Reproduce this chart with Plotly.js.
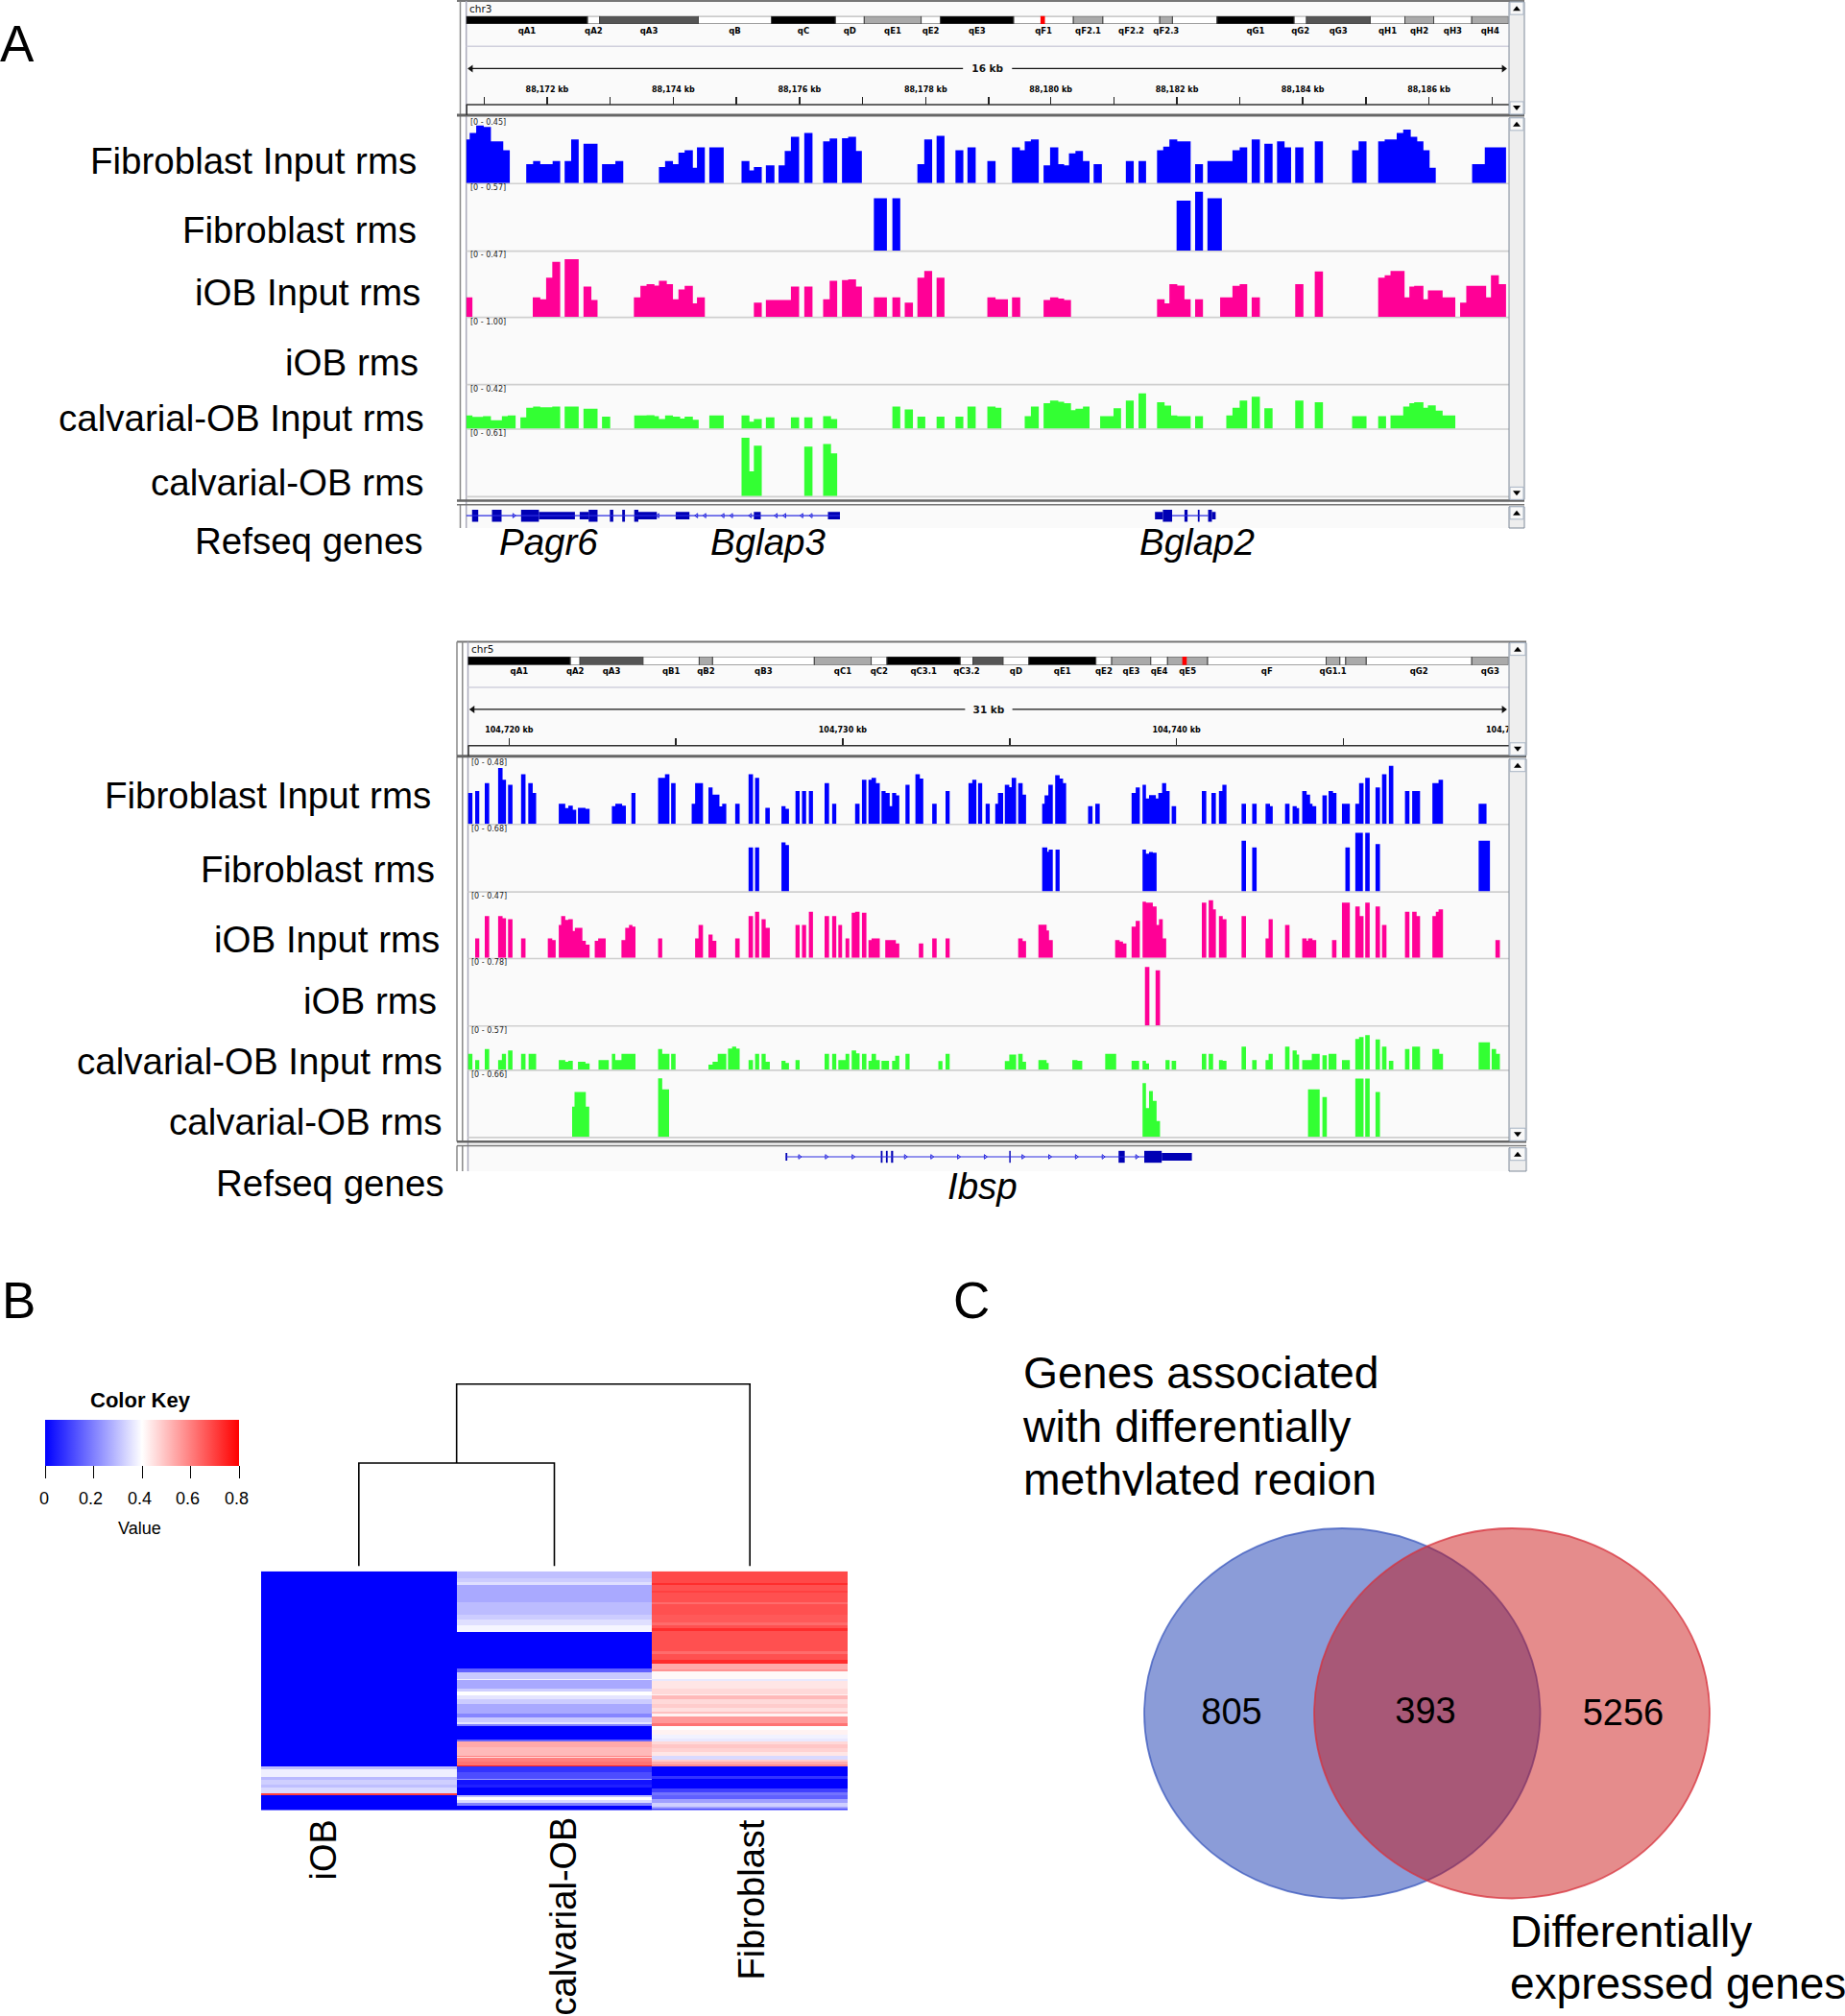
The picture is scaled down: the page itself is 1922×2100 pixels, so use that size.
<!DOCTYPE html>
<html><head><meta charset="utf-8">
<script src="https://cdn.plot.ly/plotly-3.0.1.min.js"></script>
<style>html,body{margin:0;padding:0;background:#fff;overflow:hidden}#g{width:1922px;height:2100px}</style>
</head><body><div id="g"></div>
<script>
// ---------- DATA: coverage segments [start, end, height], positions along each track, left and right half of the window
const fibInputA_L=[[16,26,127],[26,45,146],[45,67,168],[67,88,164],[88,124,122],[124,143,96],[191,211,55],[211,232,64],[232,268,55],[268,290,64],[303,322,64],[322,344,127],[358,399,115],[412,451,55],[451,474,64],[578,596,47],[596,619,64],[619,635,55],[635,653,89],[653,677,96],[677,689,45],[689,712,104],[725,767,104],[819,842,64],[842,855,37],[855,878,47],[890,915,52],[927,945,52],[945,963,94],[963,987,135],[1002,1026,146],[1057,1076,122],[1076,1098,130],[1112,1130,131],[1130,1153,135],[1153,1170,94],[1332,1352,55],[1352,1375,127],[1388,1411,138],[1443,1466,96],[1478,1502,104],[1536,1560,64]];
const fibInputA_R=[[40,63,104],[63,77,96],[77,95,122],[95,118,127],[132,151,52],[151,175,104],[175,192,55],[192,206,52],[206,225,87],[225,247,94],[247,266,64],[278,302,55],[372,395,64],[409,431,64],[463,481,96],[481,499,106],[499,522,127],[522,561,122],[574,597,55],[610,683,64],[683,704,96],[704,726,104],[739,763,127],[776,800,115],[813,835,122],[835,854,104],[866,890,104],[923,947,122],[1032,1051,96],[1051,1074,122],[1108,1127,122],[1127,1162,127],[1162,1181,146],[1181,1203,156],[1203,1222,135],[1222,1240,122],[1240,1258,96],[1258,1276,45],[1382,1419,55],[1419,1481,104]];
const fibA_L=[[1205,1243,153],[1259,1282,153]];
const fibA_R=[[520,561,146],[574,597,172],[610,652,153]];
const iobInputA_L=[[16,34,57],[210,232,57],[232,249,51],[249,267,114],[267,290,160],[303,344,168],[358,381,88],[381,399,49],[505,524,57],[524,542,90],[542,565,95],[565,578,91],[578,601,105],[601,619,95],[619,635,51],[635,653,80],[653,677,90],[677,689,39],[689,712,57],[855,878,41],[890,963,49],[963,987,88],[1002,1026,88],[1057,1076,51],[1076,1098,105],[1112,1130,107],[1130,1153,109],[1153,1170,88],[1205,1243,57],[1259,1282,57],[1295,1319,41],[1332,1352,114],[1352,1375,134],[1388,1411,114],[1536,1560,57],[1560,1568,51]];
const iobInputA_R=[[0,28,51],[40,64,57],[132,151,49],[151,175,57],[175,192,53],[192,212,49],[463,485,51],[485,499,39],[499,522,95],[522,543,91],[543,561,51],[574,597,51],[647,683,57],[683,704,90],[704,726,95],[739,763,57],[866,890,95],[923,947,132],[1108,1127,114],[1127,1144,121],[1144,1185,134],[1185,1199,57],[1199,1213,88],[1213,1240,90],[1240,1253,51],[1253,1296,77],[1296,1333,57],[1347,1365,41],[1365,1423,90],[1423,1437,57],[1437,1460,121],[1460,1481,95]];
const iobA_L=[]; const iobA_R=[];
const calInputA_L=[[16,34,38],[34,65,34],[65,88,36],[88,120,24],[120,137,36],[137,160,38],[174,191,33],[191,211,61],[211,232,64],[232,267,62],[267,290,64],[303,344,64],[358,399,58],[412,436,35],[506,542,38],[542,565,39],[565,578,36],[578,596,28],[596,619,38],[619,640,35],[640,653,29],[653,677,35],[677,694,26],[725,767,38],[819,842,38],[842,855,20],[855,878,28],[890,915,33],[963,987,33],[1002,1026,33],[1057,1080,36],[1080,1098,28],[1259,1282,64],[1295,1319,56],[1332,1355,35],[1388,1411,35],[1443,1466,35],[1478,1502,64],[1536,1560,64],[1560,1568,61]];
const calInputA_R=[[0,9,61],[77,95,36],[95,118,64],[132,151,74],[151,175,82],[175,192,78],[192,212,74],[212,225,54],[225,247,58],[247,266,64],[297,336,36],[336,358,59],[372,395,82],[409,431,103],[463,485,77],[485,504,67],[504,522,38],[522,561,36],[574,597,36],[665,683,38],[683,704,61],[704,726,82],[739,763,93],[776,800,59],[866,890,82],[923,947,77],[1032,1074,36],[1108,1131,36],[1144,1181,38],[1181,1199,64],[1199,1213,74],[1213,1240,77],[1240,1253,61],[1253,1276,68],[1276,1296,52],[1296,1333,38]];
const calA_L=[[819,842,170],[842,855,72],[855,878,147],[1002,1026,144],[1057,1080,152],[1080,1098,125]];
const calA_R=[];

const fibInputB_L=[[21,34,90],[42,54,96],[70,83,119],[109,122,163],[122,132,129],[138,151,114],[176,189,145],[197,210,119],[210,220,90],[286,305,59],[305,314,46],[314,327,53],[327,337,41],[342,364,47],[364,376,44],[441,451,52],[451,471,59],[471,482,53],[498,510,90],[576,596,134],[596,609,145],[614,627,119],[674,684,59],[684,707,119],[723,735,106],[735,755,85],[755,763,51],[763,775,59],[801,814,59],[840,853,145],[859,871,134],[889,902,47],[936,948,52],[948,958,44],[977,989,96],[996,1008,96],[1016,1028,96],[1062,1075,119],[1084,1096,59],[1151,1164,59],[1171,1184,129],[1190,1199,129],[1199,1212,134],[1212,1223,119],[1228,1240,96],[1240,1252,90],[1252,1259,52],[1259,1271,90],[1271,1280,83],[1298,1310,114],[1327,1340,145],[1340,1350,132],[1376,1389,59],[1415,1427,96],[1482,1493,119],[1493,1505,129],[1510,1522,119],[1532,1544,59],[1560,1568,59]];
const fibInputB_R=[[0,15,90],[20,33,114],[33,40,107],[40,53,134],[59,72,119],[72,82,85],[129,136,59],[136,147,83],[147,160,114],[167,180,142],[180,190,132],[190,199,119],[263,276,52],[284,297,59],[390,402,90],[402,414,106],[422,432,114],[432,441,74],[441,461,84],[461,468,74],[468,479,90],[479,491,119],[491,501,96],[507,520,52],[595,608,96],[623,636,90],[645,655,96],[655,667,114],[711,724,59],[742,755,59],[781,794,59],[794,802,52],[838,851,59],[860,872,52],[872,879,46],[888,901,96],[901,911,85],[911,918,59],[918,929,52],[947,960,83],[965,978,96],[978,988,90],[1004,1027,59],[1043,1054,59],[1054,1067,119],[1072,1085,134],[1102,1115,106],[1121,1134,145],[1141,1154,169],[1188,1201,96],[1209,1232,96],[1268,1286,119],[1286,1299,129],[1403,1426,59]];
const fibB_L=[[840,853,128],[859,871,128],[936,948,143],[948,958,135]];
const fibB_R=[[129,144,128],[144,148,116],[148,160,122],[168,180,122],[422,432,122],[432,441,110],[441,452,115],[452,463,113],[711,724,148],[742,755,128],[1014,1027,128],[1043,1065,171],[1072,1085,171],[1102,1115,138],[1403,1436,148]];
const iobInputB_L=[[42,54,57],[70,83,122],[109,122,122],[122,132,116],[138,151,113],[176,189,57],[254,267,57],[267,277,52],[286,293,96],[293,305,122],[305,314,111],[314,327,113],[327,333,79],[333,355,88],[355,365,50],[365,376,39],[391,401,50],[401,423,57],[469,480,52],[480,491,88],[491,501,96],[501,510,91],[576,588,57],[684,694,57],[694,707,96],[723,735,68],[735,746,50],[801,814,57],[840,853,122],[859,871,135],[878,890,113],[890,902,88],[977,989,96],[996,1008,96],[1016,1028,135],[1062,1075,122],[1084,1096,122],[1102,1113,96],[1123,1134,57],[1141,1151,132],[1151,1164,135],[1171,1184,132],[1190,1199,52],[1199,1223,57],[1239,1270,52],[1270,1280,42],[1337,1350,42],[1376,1389,57],[1415,1427,57]];
const iobInputB_R=[[59,72,57],[72,82,49],[118,142,97],[142,149,80],[149,160,52],[342,355,52],[355,365,48],[365,375,42],[390,402,91],[402,414,108],[422,432,164],[432,452,161],[452,463,150],[463,470,96],[470,481,113],[481,491,57],[595,608,161],[615,628,168],[628,636,142],[645,656,122],[656,667,113],[711,724,122],[781,790,57],[790,802,113],[838,851,96],[888,901,57],[901,905,50],[905,918,57],[918,929,52],[975,988,52],[1004,1027,161],[1043,1056,150],[1056,1067,122],[1072,1085,161],[1102,1115,150],[1121,1134,96],[1188,1201,135],[1209,1222,135],[1222,1232,122],[1268,1278,122],[1278,1286,135],[1286,1299,142],[1452,1465,52]];
const iobB_L=[];
const iobB_R=[[429,442,171],[460,473,161]];
const calInputB_L=[[21,34,46],[42,54,28],[70,83,60],[109,120,28],[120,132,46],[138,151,56],[176,189,46],[198,220,46],[286,305,28],[305,314,23],[314,327,26],[342,364,23],[364,376,18],[402,432,28],[441,451,46],[451,469,28],[469,510,46],[576,588,60],[588,609,46],[614,627,46],[723,735,15],[735,750,23],[750,775,46],[780,792,62],[792,804,67],[804,814,62],[840,853,28],[859,871,46],[878,890,46],[890,902,23],[936,948,26],[948,958,20],[977,989,28],[1062,1075,46],[1084,1096,46],[1102,1123,28],[1123,1134,46],[1141,1154,56],[1154,1164,48],[1171,1184,46],[1190,1199,26],[1199,1212,46],[1212,1223,28],[1228,1250,26],[1259,1268,26],[1268,1280,41],[1298,1310,46],[1394,1406,25],[1415,1427,46]];
const calInputB_R=[[20,33,25],[33,53,44],[59,72,46],[72,82,23],[118,142,28],[142,148,20],[217,232,28],[232,246,26],[313,345,46],[390,412,26],[422,432,26],[432,441,18],[489,501,28],[507,520,26],[595,608,46],[615,628,46],[645,656,28],[656,667,26],[711,724,67],[742,755,28],[781,790,28],[790,802,46],[838,851,67],[860,872,56],[872,879,44],[888,916,28],[916,939,46],[947,960,42],[965,988,46],[1004,1027,28],[1043,1054,90],[1054,1067,95],[1072,1085,101],[1102,1115,88],[1121,1134,67],[1141,1154,26],[1188,1201,60],[1209,1232,67],[1268,1288,60],[1288,1299,46],[1403,1436,80],[1441,1454,60],[1454,1465,46]];
const calB_L=[[325,332,88],[332,365,131],[365,375,88],[576,588,171],[588,608,139]];
const calB_R=[[422,432,157],[432,441,84],[441,452,134],[452,463,105],[463,473,46],[905,939,139],[947,960,116],[1043,1067,170],[1072,1085,170],[1102,1115,131]];

const trackNames=["Fibroblast Input rms","Fibroblast rms","iOB Input rms","iOB rms","calvarial-OB Input rms","calvarial-OB rms"];
const scalesA=["[0 - 0.45]","[0 - 0.57]","[0 - 0.47]","[0 - 1.00]","[0 - 0.42]","[0 - 0.61]"];
const scalesB=["[0 - 0.48]","[0 - 0.68]","[0 - 0.47]","[0 - 0.78]","[0 - 0.57]","[0 - 0.66]"];
const trackColors=["#0000ff","#0000ff","#ff0096","#ff0096","#33ff33","#33ff33"];

// cytobands: [name, start, end, stain]
const bandsChr3=[["qA1",16,370,"k"],["qA2",370,405,"w"],["qA3",405,693,"d"],["qB",693,906,"w"],["qC",906,1093,"k"],["qD",1093,1177,"w"],["qE1",1177,1343,"g"],["qE2",1343,1399,"w"],["qE3",1399,1613,"k"],["qF1",1613,1787,"w"],["qF2.1",1787,1873,"g"],["qF2.2",1873,2039,"w"],["qF2.3",2039,2076,"g"],["",2076,2206,"w"],["qG1",2206,2431,"k"],["qG2",2431,2467,"w"],["qG3",2467,2653,"d"],["qH1",2653,2754,"w"],["qH2",2754,2838,"g"],["qH3",2838,2949,"w"],["qH4",2949,3056,"g"]];
const bandsChr5=[["qA1",21,320,"k"],["qA2",320,348,"w"],["qA3",348,532,"d"],["qB1",532,696,"w"],["qB2",696,735,"g"],["qB3",735,1032,"w"],["qC1",1032,1198,"g"],["qC2",1198,1244,"w"],["qC3.1",1244,1458,"k"],["qC3.2",1458,1495,"w"],["",1495,1583,"d"],["qD",1583,1658,"w"],["qE1",1658,1854,"k"],["qE2",1854,1900,"w"],["qE3",1900,2014,"g"],["qE4",2014,2063,"w"],["qE5",2063,2180,"g"],["qF",2180,2526,"w"],["qG1.1",2526,2566,"g"],["",2566,2583,"w"],["",2583,2643,"g"],["qG2",2643,2951,"w"],["qG3",2951,3058,"g"]];
const locusChr3=[1691,1704];
const locusChr5=[2106,2119];

// ruler: kb coordinate and its position along the window
const rulerKbA=[88171,88172,88173,88174,88175,88176,88177,88178,88179,88180,88181,88182,88183,88184,88185,88186,88187];
const rulerPosA=[69,252,436,620,804,988,1172,1356,1540,1721,1905,2089,2272,2456,2640,2824,3008];
const rulerKbB=[104720,104725,104730,104735,104740,104745,104750];
const rulerPosB=[141,628,1115,1602,2089,2576,3063];

// RefSeq exons: [start, end, tall(1)/thin(0)]
const exonsA=[[33,51,1],[91,119,1],[176,228,1],[228,333,0],[347,373,0],[373,399,1],[435,445,1],[471,479,1],[506,518,1],[518,572,0],[627,667,0],[855,875,0],[1071,1106,0],[2025,2048,0],[2048,2075,1],[2111,2120,1],[2150,2155,1],[2180,2191,1],[2191,2202,0]];
const intronsA=[[16,1106],[2075,2180]];
const chevronsLeftA=[575,688,712,765,790,845,920,945,995,1022];
const chevronsRightA=[155];
const exonsB=[[948,953,0],[1226,1231,1],[1241,1246,1],[1256,1262,1],[1601,1605,1],[1920,1938,1],[1995,2046,1],[2046,2134,0]];
const intronsB=[[948,1995]];
const chevronsRightB=[989,1067,1145,1298,1375,1453,1531,1641,1719,1797,1875,1973];

// heatmap: runs [end row, value] for each column
const hmColumns=["iOB","calvarial-OB","Fibroblast"];
const hmIOB=[[203,0],[206,.30],[214,.375],[217,.29],[222,.325],[225,.30],[231,.34],[233,.70],[249,0]];
const hmCal=[[7,.30],[11,.32],[14,.35],[32,.265],[45,.295],[50,.32],[56,.35],[63,.385],[101,0],[105,.15],[112,.315],[113,.375],[122,.265],[125,.325],[129,.40],[133,.36],[138,.32],[148,.265],[152,.21],[157,.315],[159,.36],[161,.2],[175,0],[177,.15],[183,.535],[192,.51],[193,.6],[194,.45],[198,.6],[202,.62],[203,.75],[209,.08],[216,.12],[217,.25],[222,.03],[225,.05],[233,0],[235,.3],[238,.4],[241,.34],[244,.2],[249,0]];
const hmFib=[[12,.685],[14,.73],[20,.675],[22,.70],[32,.675],[34,.63],[45,.675],[53,.66],[56,.63],[59,.675],[62,.73],[83,.675],[86,.63],[92,.675],[96,.73],[102,.53],[104,.57],[112,.41],[114,.365],[122,.44],[128,.46],[129,.42],[133,.51],[138,.46],[142,.48],[146,.45],[148,.50],[151,.42],[158,.56],[161,.62],[165,.40],[170,.42],[174,.38],[177,.365],[180,.46],[184,.49],[188,.47],[192,.44],[196,.34],[198,.48],[201,.53],[203,.58],[213,0],[216,.08],[226,0],[230,.10],[233,.18],[237,.15],[241,.25],[245,.325],[247,.25],[249,.10]];
const keyTicks=[0,0.2,0.4,0.6,0.8];
const keyLabelX=[45.7,94.5,145.6,195,246];
const dendroInner=107.6, dendroOuter=190;

const vennCounts=["805","393","5256"];
const vennCountX=[1283,1485,1691];
const vennCountY=[1786,1785,1787];
const vennTitle=["Genes associated","with differentially","methylated region"];
const vennTitleY=[1434,1490,1545];

// ---------- HELPERS
const W=1922,H=2100,FX=p=>p/W,FY=p=>1-p/H;
const SANS='"Liberation Sans",Arial,sans-serif', DJ='"DejaVu Sans",sans-serif';
const traces=[],layout={width:W,height:H,margin:{l:0,r:0,t:0,b:0},paper_bgcolor:'#fff',plot_bgcolor:'rgba(0,0,0,0)',showlegend:false,barmode:'overlay',hovermode:false,shapes:[],annotations:[],font:{family:SANS}};
let axN=0;
function axes(x0,x1,y0,y1,xo,yo){axN++;const s=axN===1?'':axN;
  layout['xaxis'+s]=Object.assign({domain:[FX(x0),FX(x1)],anchor:'y'+s,visible:false,fixedrange:true,zeroline:false,showgrid:false},xo);
  layout['yaxis'+s]=Object.assign({domain:[FY(y1),FY(y0)],anchor:'x'+s,visible:false,fixedrange:true,zeroline:false,showgrid:false},yo);
  return {xaxis:'x'+s,yaxis:'y'+s};}
function rect(x0,y0,x1,y1,fill,line,lw,layer){layout.shapes.push({type:'rect',xref:'paper',yref:'paper',x0:FX(x0),x1:FX(x1),y0:FY(y0),y1:FY(y1),fillcolor:fill||'rgba(0,0,0,0)',line:{color:line||'rgba(0,0,0,0)',width:lw===undefined?0:lw},layer:layer||'below'});}
function hline(x0,x1,y,c,w,layer){layout.shapes.push({type:'line',xref:'paper',yref:'paper',x0:FX(x0),x1:FX(x1),y0:FY(y),y1:FY(y),line:{color:c,width:w},layer:layer||'below'});}
function vline(x,y0,y1,c,w,layer){layout.shapes.push({type:'line',xref:'paper',yref:'paper',x0:FX(x),x1:FX(x),y0:FY(y0),y1:FY(y1),line:{color:c,width:w},layer:layer||'below'});}
function tri(cx,cy,dir){const a=4,b=2.5,d=dir*b;layout.shapes.push({type:'path',xref:'paper',yref:'paper',path:`M ${FX(cx-a)} ${FY(cy-d)} L ${FX(cx+a)} ${FY(cy-d)} L ${FX(cx)} ${FY(cy+d)} Z`,fillcolor:'#000',line:{width:0},layer:'above'});}
function note(text,x,y,size,o){layout.annotations.push(Object.assign({text,xref:'paper',yref:'paper',x:FX(x),y:FY(y),showarrow:false,xanchor:'left',yanchor:'middle',font:{size,family:SANS,color:'#000'},borderpad:0,borderwidth:0,align:'left'},o||{}));}
function scroll(x0,x1,y0,y1,bottom){rect(x0,y0,x1,y1,'#eeeeee','#7f8a99',1,'above');
  rect(x0+1,y0,x1-1,y0+13,'#f8f8f8','#a8b4c4',1,'above');tri((x0+x1)/2,y0+6.5,-1);
  if(bottom){rect(x0+1,y1-13,x1-1,y1,'#f8f8f8','#a8b4c4',1,'above');tri((x0+x1)/2,y1-6.5,1);}}
const seg=(L,R)=>L.concat(R.map(s=>[s[0]+1568,s[1]+1568,s[2]]));
function coverage(segs,color,xa){const x=[],y=[];segs.forEach(s=>{x.push(s[0],s[0],s[1],s[1]);y.push(0,s[2],s[2],0);});
  if(!x.length){x.push(xa[0]);y.push(0);}
  return {type:'scatter',mode:'lines',x,y,fill:'tozeroy',fillcolor:color,line:{width:0,color},hoverinfo:'skip'};}

function panel(P){
  const z=v=>P.off+v/2.8;
  // chrome
  rect(P.left,z(P.top),1572,P.bot,'#fafafa');
  hline(P.frameL,P.sbR,z(P.top),'#777',2);
  hline(P.frameL,P.sbR,z(P.headBot),'#666',3,'above');
  hline(P.frameL,P.sbR,z(P.trackBot),'#666',2.5,'above');
  hline(P.frameL,P.sbR,z(P.trackBot+12),'#777',1.5,'above');
  P.vlines.forEach(v=>{vline(v,z(P.top),z(P.headBot),'#888',1.5);vline(v,z(P.headBot),z(P.trackBot),'#888',1.5);vline(v,z(P.trackBot+12),P.bot,'#888',1.5);});
  vline(P.left,z(P.top),P.bot,'#aab',1.5);
  hline(P.left,1572,z(P.divider),'#d0d0dc',1.5);
  hline(P.left,1572,z(P.rulerBase),'#333',1.5,'above');
  vline(P.left+.5,z(P.rulerBase),z(P.headBot),'#333',1.5,'above');
  scroll(1572,P.sbR,z(P.top+3),z(P.headBot-3),true);
  scroll(1572,P.sbR,z(P.headBot+8),z(P.trackBot-3),true);
  scroll(1572,P.sbR,z(P.trackBot+18),P.bot,false);
  note(P.chr,P.left+3,z(P.chrZ),10.5,{font:{size:10.5,family:DJ,color:'#111'}});
  // ideogram
  const a=axes(P.left,1571.4,z(P.ideo[0]),z(P.ideo[1]),{visible:true,range:P.range,showline:false,ticks:'',tickmode:'array',
    tickvals:P.bands.filter(b=>b[0]).map(b=>(b[1]+b[2])/2),ticktext:P.bands.filter(b=>b[0]).map(b=>b[0]),tickangle:0,tickfont:{size:8.5,family:DJ,color:'#000',weight:700}},{range:[-.5,.5]});
  const stain={k:'#000',d:'#555',g:'#aaa',w:'#fff'};
  traces.push(Object.assign({type:'bar',orientation:'h',y:P.bands.map(_=>0),base:P.bands.map(b=>b[1]),x:P.bands.map(b=>b[2]-b[1]),width:P.bands.map(_=>1),marker:{color:P.bands.map(b=>stain[b[3]]),line:{color:'#444',width:1}},hoverinfo:'skip'},a));
  traces.push(Object.assign({type:'bar',orientation:'h',y:[0],base:[P.locus[0]],x:[P.locus[1]-P.locus[0]],width:[1.75],marker:{color:'#ff0000',line:{width:0}},cliponaxis:false,hoverinfo:'skip'},a));
  // ruler
  const rh=P.rulerBase-P.divider;
  const r=axes(P.left,1571.4,z(P.divider),z(P.rulerBase),{visible:true,range:P.range,showline:false,showticklabels:false,ticks:'inside',ticklen:8,tickwidth:1.5,tickcolor:'#222',tickmode:'array',tickvals:P.rulerPos},{range:[0,rh]});
  const yArrow=P.rulerBase-P.arrowZ,yLab=P.rulerBase-P.labelZ-5;
  traces.push(Object.assign({type:'scatter',mode:'lines',x:[P.range[0]+6,P.spanGap[0]],y:[yArrow,yArrow],line:{color:'#111',width:1.3},hoverinfo:'skip'},r));
  traces.push(Object.assign({type:'scatter',mode:'lines',x:[P.spanGap[1],P.range[1]-8],y:[yArrow,yArrow],line:{color:'#111',width:1.3},hoverinfo:'skip'},r));
  traces.push(Object.assign({type:'scatter',mode:'markers',x:[P.range[0]+14,P.range[1]-14],y:[yArrow,yArrow],marker:{symbol:['triangle-left','triangle-right'],size:7,color:'#111'},hoverinfo:'skip'},r));
  traces.push(Object.assign({type:'scatter',mode:'text',x:[(P.spanGap[0]+P.spanGap[1])/2],y:[yArrow-4],text:[P.span],textfont:{size:10.5,family:DJ,color:'#111',weight:700},hoverinfo:'skip'},r));
  traces.push(Object.assign({type:'scatter',mode:'text',cliponaxis:true,x:P.rulerLab.map(i=>P.rulerPos[i]),y:P.rulerLab.map(_=>yLab),text:P.rulerLab.map(i=>P.fmt(P.rulerKb[i])),textfont:{size:8,family:DJ,color:'#000',weight:700},hoverinfo:'skip'},r));
  // tracks
  P.tracks.forEach((t,i)=>{
    const b=axes(P.left,1571.4,z(t[0]),z(t[1]),{range:P.range},{range:[0,t[1]-t[0]]});
    traces.push(Object.assign(coverage(P.data[i],trackColors[i],P.range),b));
    hline(P.left,1572,z(t[1])+.6,'#cfcfcf',1.6);
    note(P.scales[i],P.left+4,z(t[0])+4.2,8,{font:{size:8,family:DJ,color:'#222'}});
  });
  // genes
  const g=axes(P.left,1571.4,z(P.geneZ-19),z(P.geneZ+19),{range:P.range},{range:[-19,19]});
  P.introns.forEach(s=>traces.push(Object.assign({type:'scatter',mode:'lines',x:s,y:[0,0],line:{color:'#2a2ae0',width:1.2},hoverinfo:'skip'},g)));
  if(P.chevL.length)traces.push(Object.assign({type:'scatter',mode:'markers',x:P.chevL,y:P.chevL.map(_=>0),marker:{symbol:'triangle-left-open',size:4,color:'#2a2ae0',line:{width:1,color:'#2a2ae0'}},hoverinfo:'skip'},g));
  if(P.chevR.length)traces.push(Object.assign({type:'scatter',mode:'markers',x:P.chevR,y:P.chevR.map(_=>0),marker:{symbol:'triangle-right-open',size:4,color:'#2a2ae0',line:{width:1,color:'#2a2ae0'}},hoverinfo:'skip'},g));
  traces.push(Object.assign({type:'bar',orientation:'h',y:P.exons.map(_=>0),base:P.exons.map(e=>e[0]),x:P.exons.map(e=>e[1]-e[0]),width:P.exons.map(e=>e[2]?35:22),marker:{color:'#0000b4',line:{width:0}},hoverinfo:'skip'},g));
  // side labels
  P.labels.forEach(l=>note(l[0],l[1],l[2],38.5,{xanchor:'right'}));
}

const fmtKb=v=>String(v).replace(/(\d{3})$/,',$1')+' kb';
panel({off:0,top:3,headBot:336,trackBot:1460,divider:135,rulerBase:305,arrowZ:200,labelZ:258,left:485.7,frameL:476,sbR:1588,bot:550,chr:'chr3',chrZ:24,
  vlines:[479.5],range:[16,3056],ideo:[47,70],bands:bandsChr3,locus:locusChr3,rulerKb:rulerKbA,rulerPos:rulerPosA,rulerLab:[1,3,5,7,9,11,13,15],fmt:fmtKb,span:'16 kb',spanGap:[1465,1608],
  tracks:[[345,534],[536,731],[733,924],[927,1120],[1124,1250],[1253,1447]],
  data:[seg(fibInputA_L,fibInputA_R),seg(fibA_L,fibA_R),seg(iobInputA_L,iobInputA_R),seg(iobA_L,iobA_R),seg(calInputA_L,calInputA_R),seg(calA_L,calA_R)],
  scales:scalesA,geneZ:1504,introns:intronsA,exons:exonsA,chevL:chevronsLeftA,chevR:chevronsRightA,
  labels:[[trackNames[0],433.5,167],[trackNames[1],433.5,239.5],[trackNames[2],437.7,304.6],[trackNames[3],435.7,377],[trackNames[4],441.7,435.6],[trackNames[5],442,502],["Refseq genes",440.7,563]]});
panel({off:665,top:10,headBot:344,trackBot:1468,divider:143,rulerBase:313,arrowZ:207,labelZ:265,left:487.5,frameL:476,sbR:1590,bot:1220,chr:'chr5',chrZ:31,
  vlines:[476,481.8],range:[21,3058],ideo:[53,78],bands:bandsChr5,locus:locusChr5,rulerKb:rulerKbB,rulerPos:rulerPosB,rulerLab:[0,2,4,6],fmt:fmtKb,span:'31 kb',spanGap:[1472,1610],
  tracks:[[350,541],[543,738],[740,932],[934,1129],[1131,1258],[1260,1454]],
  data:[seg(fibInputB_L,fibInputB_R),seg(fibB_L,fibB_R),seg(iobInputB_L,iobInputB_R),seg(iobB_L,iobB_R),seg(calInputB_L,calInputB_R),seg(calB_L,calB_R)],
  scales:scalesB,geneZ:1512,introns:intronsB,exons:exonsB,chevL:[],chevR:chevronsRightB,
  labels:[[trackNames[0],449,828],[trackNames[1],453,905],[trackNames[2],458,978],[trackNames[3],455,1042],[trackNames[4],461,1105],[trackNames[5],461,1168],["Refseq genes",463,1232]]});

// gene names and panel letters
[["Pagr6",571,564],["Bglap3",800,564],["Bglap2",1247,564],["Ibsp",1023,1235]].forEach(g=>note('<i>'+g[0]+'</i>',g[1],g[2],38.5,{xanchor:'center'}));
[["A",0,46],["B",2,1354],["C",993,1354]].forEach(l=>note(l[0],l[1],l[2],53));

// heatmap
function expand(runs){const o=[];let r=0;runs.forEach(([e,v])=>{while(r<e){o.push(v);r++;}});return o;}
const colI=expand(hmIOB),colC=expand(hmCal),colF=expand(hmFib);
const hmZ=colI.map((v,i)=>[v,colC[i],colF[i]]);
const hmA=axes(272,883,1636.7,1885.7,{range:[-.5,2.5]},{range:[248.5,-.5]});
traces.push(Object.assign({type:'heatmap',z:hmZ,x:[0,1,2],y:hmZ.map((_,i)=>i),zmin:0,zmax:.8,zsmooth:false,
  colorscale:[[0,'#0000ff'],[.5,'#ffffff'],[1,'#ff0000']],hoverinfo:'skip',
  colorbar:{orientation:'h',x:FX(148),xanchor:'center',y:FY(1478.5),yanchor:'top',len:202,lenmode:'pixels',thickness:47.5,thicknessmode:'pixels',xpad:0,ypad:0,outlinewidth:0,
    ticks:'outside',ticklen:13,tickwidth:1,tickcolor:'#000',tickmode:'array',tickvals:keyTicks,showticklabels:false}},hmA));
hline(47,249,1526,'#000',1.5,'above');
keyTicks.forEach((t,i)=>note(String(t),keyLabelX[i],1561,18,{xanchor:'center'}));
note('Color Key',146,1458,22,{xanchor:'center',font:{size:22,family:SANS,color:'#000',weight:700}});
note('Value',145,1592,18,{xanchor:'center'});
[["iOB",337,1896],["calvarial-OB",586,1893],["Fibroblast",783,1896]].forEach(l=>note(l[0],l[1],l[2],38,{textangle:-90,xanchor:'center',yanchor:'top'}));

// dendrogram
const dA=axes(272,883,1441.7-1,1631.6,{range:[-.5,2.5]},{range:[0,dendroOuter+1]});
traces.push(Object.assign({type:'scatter',mode:'lines',x:[0,0,1,1],y:[0,dendroInner,dendroInner,0],line:{color:'#000',width:1.6},hoverinfo:'skip'},dA));
traces.push(Object.assign({type:'scatter',mode:'lines',x:[.5,.5,2,2],y:[dendroInner,dendroOuter,dendroOuter,0],line:{color:'#000',width:1.6},hoverinfo:'skip'},dA));

// venn
const vA=axes(1180,1800,1580,1990,{range:[1180,1800]},{range:[1990,1580]});
const vx=vA.xaxis,vy=vA.yaxis;
layout.shapes.push({type:'circle',xref:vx,yref:vy,x0:1192,x1:1604.5,y0:1592,y1:1977.5,fillcolor:'rgba(23,57,177,.5)',line:{color:'rgba(60,90,190,.75)',width:1.8},layer:'below'});
layout.shapes.push({type:'circle',xref:vx,yref:vy,x0:1369,x1:1781,y0:1592,y1:1977.5,fillcolor:'rgba(200,13,13,.475)',line:{color:'rgba(215,50,60,.75)',width:1.8},layer:'below'});
traces.push(Object.assign({type:'scatter',mode:'text',x:vennCountX,y:vennCountY,text:vennCounts,textfont:{size:38,family:SANS,color:'#000'},hoverinfo:'skip'},vA));
const tA=axes(1060,1500,1400,1558,{range:[1060,1500]},{range:[1558,1400]});
traces.push(Object.assign({type:'scatter',mode:'text',cliponaxis:true,x:vennTitle.map(_=>1066),y:vennTitleY,text:vennTitle,textposition:'middle right',textfont:{size:46.3,family:SANS,color:'#000'},hoverinfo:'skip'},tA));
note('Differentially',1573,2012,46);
note('expressed genes',1573,2066,46);

Plotly.newPlot('g',traces,layout,{displayModeBar:false,staticPlot:true});
</script></body></html>
